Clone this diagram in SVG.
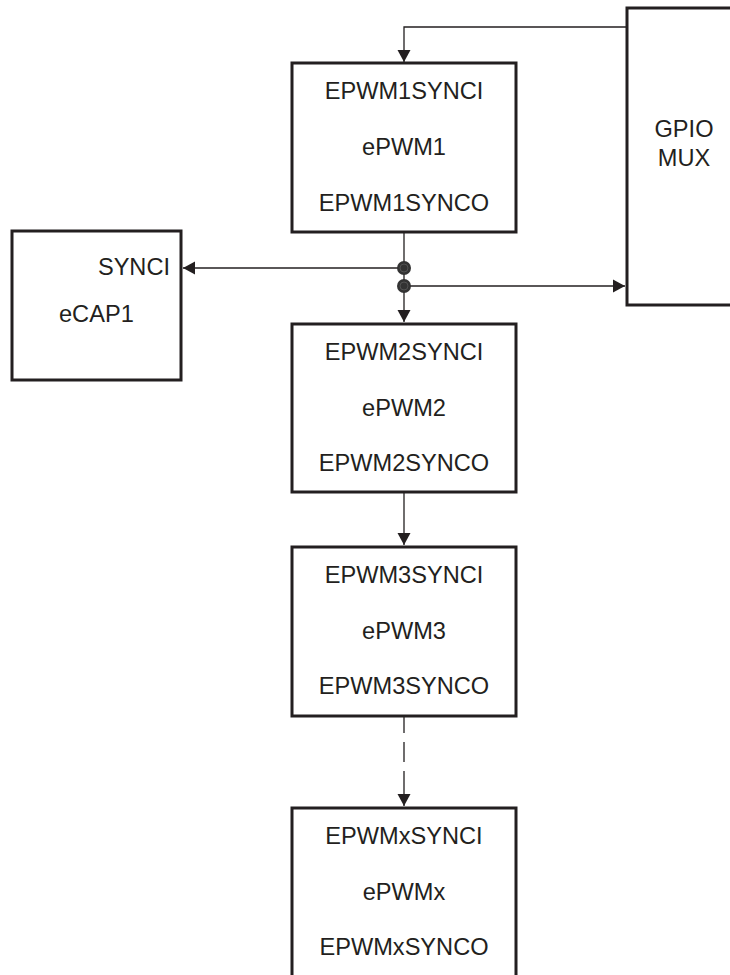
<svg xmlns="http://www.w3.org/2000/svg" width="730" height="975" viewBox="0 0 730 975">
<style>
.box{fill:#fff;stroke:#231f20;stroke-width:3}
.t{font-family:"Liberation Sans",Arial,sans-serif;font-size:23.6px;fill:#231f20;text-anchor:middle}
.wire{fill:none;stroke:#231f20;stroke-width:1.3}
</style>
<defs>
<marker id="arr" markerUnits="userSpaceOnUse" markerWidth="14" markerHeight="14" viewBox="0 0 14 14" refX="12" refY="7" orient="auto">
<path d="M0,0.5 L12,7 L0,13.5 Z" fill="#231f20"/>
</marker>
</defs>
<rect width="730" height="975" fill="#fff"/>
<g id="connectors">
<path class="wire" d="M627,27 H404 V62" marker-end="url(#arr)"/>
<path class="wire" d="M404,232 V322" marker-end="url(#arr)"/>
<path class="wire" d="M404,268 H183" marker-end="url(#arr)"/>
<path class="wire" d="M404,286 H625" marker-end="url(#arr)"/>
<path class="wire" d="M404,492 V545" marker-end="url(#arr)"/>
<path class="wire" d="M404,716 V733 M404,742 V762 M404,771 V798"/>
<path class="wire" d="M404,796 V806" marker-end="url(#arr)"/>
<circle cx="404" cy="268" r="7" fill="#333"/>
<circle cx="404" cy="268" r="4" fill="none" stroke="#5a5a5a" stroke-width="0.8"/>
<circle cx="404" cy="286" r="7" fill="#333"/>
<circle cx="404" cy="286" r="4" fill="none" stroke="#5a5a5a" stroke-width="0.8"/>
</g>
<g id="gpio">
<rect class="box" x="627" y="8" width="120" height="297"/>
<text class="t" x="684" y="137">GPIO</text>
<text class="t" x="684" y="166">MUX</text>
</g>
<g id="ecap1">
<rect class="box" x="12" y="231" width="169" height="149"/>
<text class="t" x="170" y="275" style="text-anchor:end">SYNCI</text>
<text class="t" x="59" y="322" style="text-anchor:start">eCAP1</text>
</g>
<g id="epwm1">
<rect class="box" x="292" y="63" width="224" height="169"/>
<text class="t" x="404" y="99">EPWM1SYNCI</text>
<text class="t" x="404" y="155">ePWM1</text>
<text class="t" x="404" y="211">EPWM1SYNCO</text>
</g>
<g id="epwm2">
<rect class="box" x="292" y="324" width="224" height="168"/>
<text class="t" x="404" y="360">EPWM2SYNCI</text>
<text class="t" x="404" y="416">ePWM2</text>
<text class="t" x="404" y="471">EPWM2SYNCO</text>
</g>
<g id="epwm3">
<rect class="box" x="292" y="547" width="224" height="169"/>
<text class="t" x="404" y="583">EPWM3SYNCI</text>
<text class="t" x="404" y="639">ePWM3</text>
<text class="t" x="404" y="694">EPWM3SYNCO</text>
</g>
<g id="epwmx">
<rect class="box" x="292" y="808" width="224" height="172"/>
<text class="t" x="404" y="844">EPWMxSYNCI</text>
<text class="t" x="404" y="900">ePWMx</text>
<text class="t" x="404" y="955">EPWMxSYNCO</text>
</g>
</svg>
